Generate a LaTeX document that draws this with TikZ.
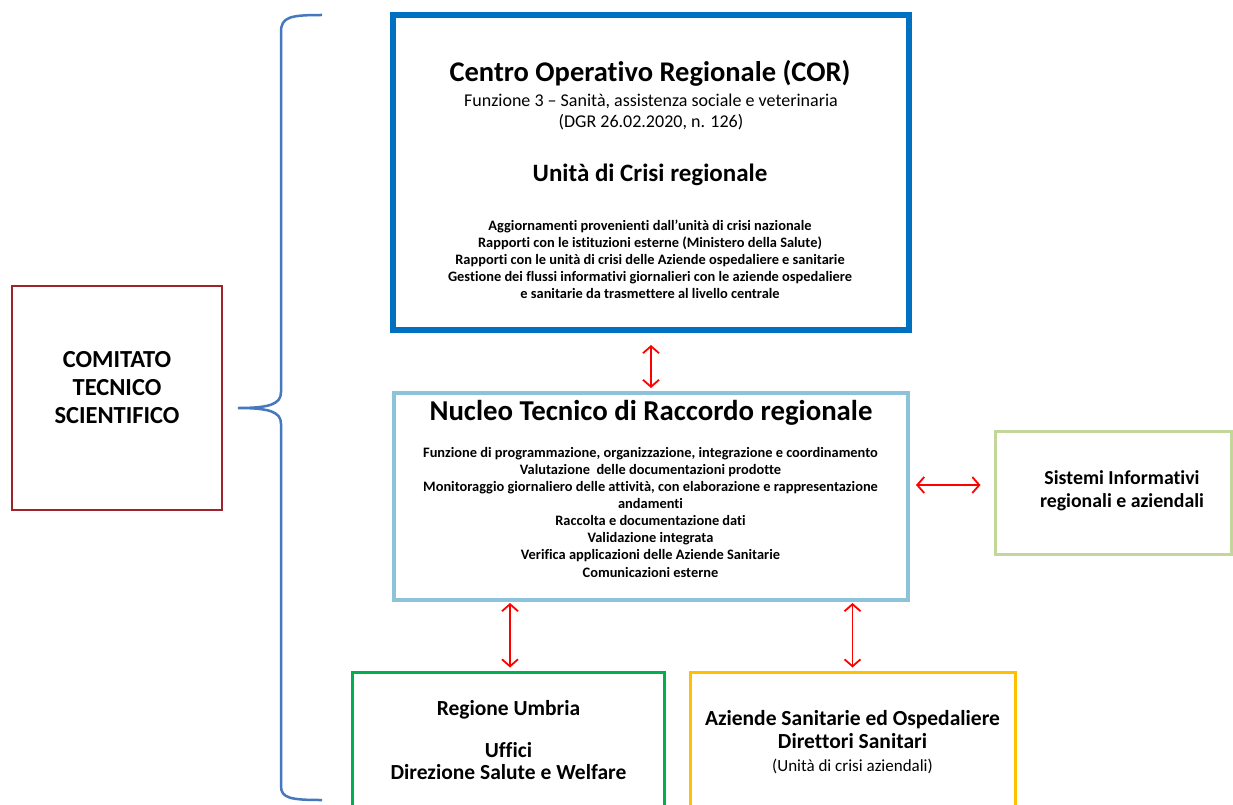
\documentclass[tikz,border=0pt]{standalone}
\usepackage{fontspec}
\setmainfont{Carlito}[Ligatures=NoCommon]
\usetikzlibrary{arrows.meta,calc,positioning}
\definecolor{corblue}{RGB}{0,112,192}
\definecolor{ntrblue}{RGB}{141,195,217}
\definecolor{sisgreen}{RGB}{195,214,155}
\definecolor{reggreen}{RGB}{0,176,80}
\definecolor{azgold}{RGB}{255,192,0}
\definecolor{ctsred}{RGB}{158,36,44}
\definecolor{braceblue}{RGB}{70,120,190}
\newcommand{\fsz}[2]{\fontsize{#1}{#2}\selectfont}
\tikzset{%
	frame/.style    = {draw, rectangle, inner sep=0pt}, % empty box
	corbox/.style   = {frame, draw=corblue, line width=6pt, minimum width=516pt, minimum height=315pt},
	ntrbox/.style   = {frame, draw=ntrblue, line width=4pt, minimum width=514pt, minimum height=207pt},
	sisbox/.style   = {frame, draw=sisgreen, line width=3pt, minimum width=236pt, minimum height=123pt},
	regbox/.style   = {frame, draw=reggreen, line width=3pt, minimum width=312pt, minimum height=140pt},
	azbox/.style    = {frame, draw=azgold, line width=3pt, minimum width=325pt, minimum height=140pt},
	ctsbox/.style   = {frame, draw=ctsred, line width=2pt, minimum width=210pt, minimum height=224pt},
	txt/.style      = {align=center, inner sep=0pt, anchor=base}, % base = last line
	link/.style     = {draw=red, line width=1.8pt, {Straight Barb[length=7pt,width=16pt]}-{Straight Barb[length=7pt,width=16pt]}},
}

\begin{document}
\begin{tikzpicture}[x=1pt,y=-1pt]
	\useasboundingbox (0,0) rectangle (1233,805);
	\fill[white] (0,0) rectangle (1233,805);

	% boxes
	\node [corbox] (cor) at (651,172.5) {};
	\node [ntrbox] (ntr) at (651,496.5) {};
	\node [sisbox] (sis) at (1113,492.5) {};
	\node [regbox] (reg) at (508,742) {};
	\node [azbox]  (az)  at (852.5,742) {};
	\node [ctsbox] (cts) at (117,398) {};

	% texts
	\node [txt, font=\fsz{28.5}{32}\bfseries] (cortitle) at (650,82) {Centro Operativo Regionale (COR)};
	\node [txt, font=\fsz{18}{21}] (corsub) at (651,128) {Funzione 3 – Sanità, assistenza sociale e veterinaria\\(DGR 26.02.2020, n. 126)};
	\node [txt, font=\fsz{25}{28}\bfseries] (unita) at (650,182) {Unità di Crisi regionale};
	\node [txt, font=\fsz{14.4}{17}\bfseries] (corlist) at (650,298) {Aggiornamenti provenienti dall’unità di crisi nazionale\\
		Rapporti con le istituzioni esterne (Ministero della Salute)\\
		Rapporti con le unità di crisi delle Aziende ospedaliere e sanitarie\\
		Gestione dei flussi informativi giornalieri con le aziende ospedaliere\\
		e sanitarie da trasmettere al livello centrale};

	\node [txt, font=\fsz{28.8}{32}\bfseries] (ntrtitle) at (651,420) {Nucleo Tecnico di Raccordo regionale};
	\node [txt, font=\fsz{14.4}{17.1}\bfseries] (ntrlist) at (650.5,577) {Funzione di programmazione, organizzazione, integrazione e coordinamento\\
		Valutazione\ \ delle documentazioni prodotte\\
		Monitoraggio giornaliero delle attività, con elaborazione e rappresentazione\\
		andamenti\\
		Raccolta e documentazione dati\\
		Validazione integrata\\
		Verifica applicazioni delle Aziende Sanitarie\\
		Comunicazioni esterne};

	\node [txt, font=\fsz{19.8}{23}\bfseries] (sistxt) at (1122,507) {Sistemi Informativi\\regionali e aziendali};
	\node [txt, font=\fsz{21.5}{22}\bfseries] (regtxt) at (508.5,779) {Regione Umbria\\[20pt]Uffici\\Direzione Salute e Welfare};
	\node [txt, font=\fsz{21.5}{23}\bfseries] (aztxt) at (852.5,771) {Aziende Sanitarie ed Ospedaliere\\Direttori Sanitari\\{\mdseries\fsz{17}{23}(Unità di crisi aziendali)}};
	\node [txt, font=\fsz{24.5}{28}\bfseries] (ctstxt) at (117,423) {COMITATO\\TECNICO\\SCIENTIFICO};

	% brace
	\draw[braceblue, line width=2.5pt] (322,15) .. controls (290,15) and (281,17) .. (281,32) -- (281,392)
		.. controls (281,404) and (270,408) .. (238,408)
		.. controls (270,408) and (281,412) .. (281,424) -- (281,786)
		.. controls (281,798) and (290,800) .. (322,800);

	% links
	\draw[link, shorten <=12pt, shorten >=3pt] (cor.south) -- (ntr.north);
	\draw[link, shorten <=6pt, shorten >=13pt] ([yshift=11.5pt]ntr.east) -- ([yshift=7.5pt]sis.west);
	\draw[link, shorten <=1pt, shorten >=3pt] ([xshift=2pt]reg.north |- ntr.south) -- ([xshift=2pt]reg.north);
	\draw[link, shorten <=1pt, shorten >=3pt] (az.north |- ntr.south) -- (az.north);
\end{tikzpicture}
\end{document}
